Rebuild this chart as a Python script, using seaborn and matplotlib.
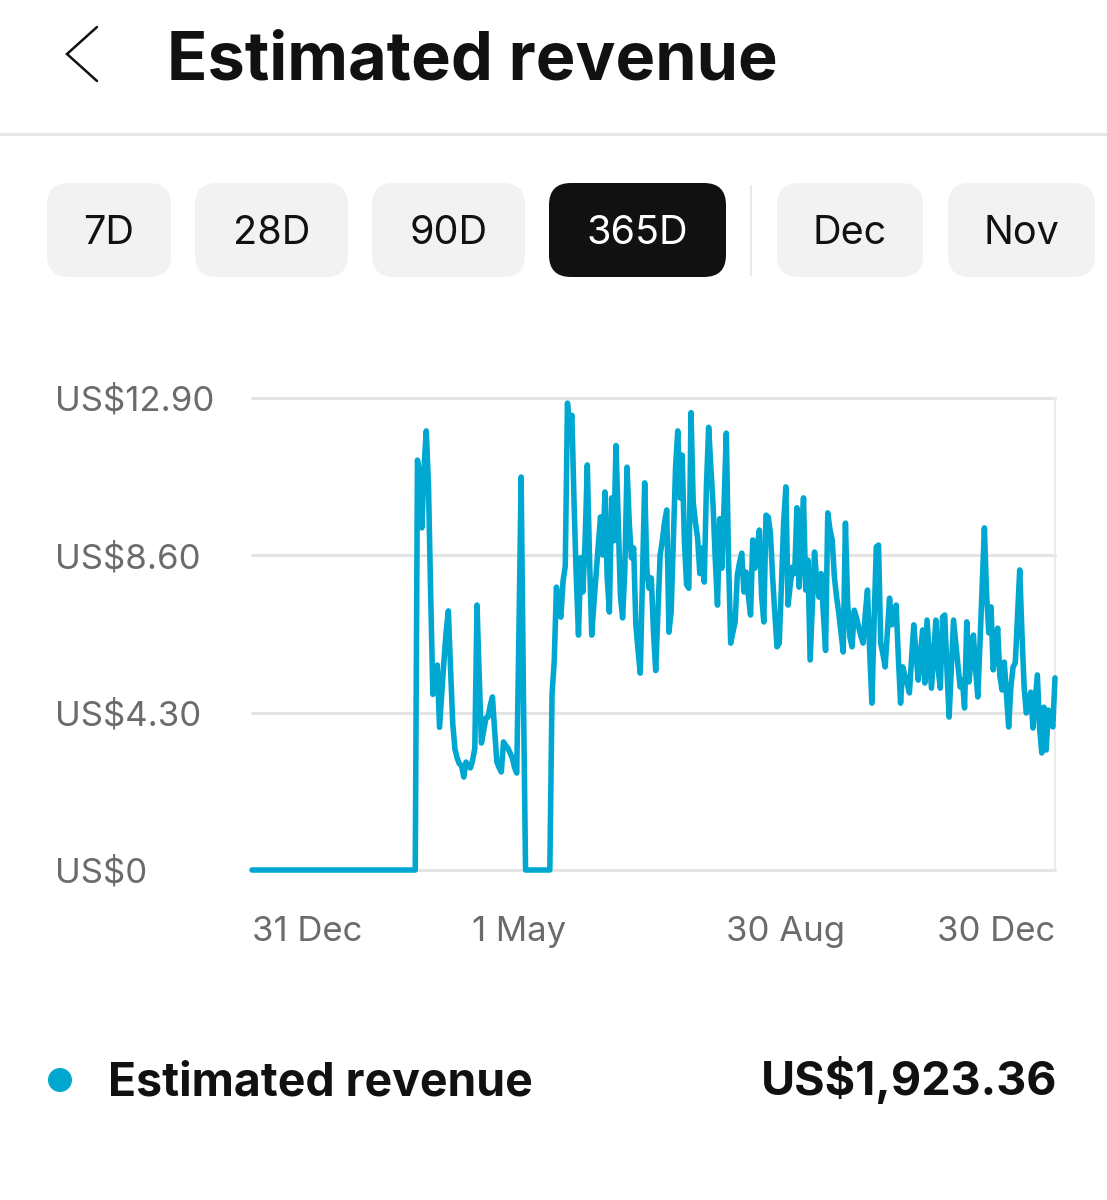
import matplotlib
matplotlib.use("Agg")
import matplotlib.pyplot as plt
import seaborn as sns
import pandas as pd
from matplotlib.patches import FancyBboxPatch, Circle

# ---------------- data ----------------
start_date = "2022-12-31"
zeros_early = [0.0] * 75            # 31 Dec .. 15 Mar
segment_a = [                        # 16 Mar .. 3 May
    11.2, 10.8, 9.35, 11.0, 12.0, 10.5, 7.5, 4.8, 5.2, 5.6,
    3.9, 4.8, 5.7, 6.5, 7.08, 5.5, 4.0, 3.3, 3.06, 2.9,
    2.85, 2.54, 2.95, 2.85, 2.79, 3.0, 3.33, 7.24, 5.3, 3.47,
    3.8, 4.15, 4.18, 4.5, 4.73, 3.8, 2.95, 2.8, 2.68, 3.5,
    3.4, 3.33, 3.2, 3.06, 2.8, 2.65, 6.5, 10.74, 5.0,
]
zeros_gap = [0.0] * 12               # 4 May .. 15 May
segment_b = [                        # 16 May .. 5 Sep
    4.8, 5.7, 7.73, 7.2, 6.91, 7.9, 8.3, 12.76, 12.0, 12.43,
    10.0, 8.0, 6.42, 8.53, 7.6, 9.0, 11.07, 8.5, 6.42, 7.3,
    8.1, 8.9, 9.65, 8.61, 10.33, 8.0, 7.05, 10.17, 9.0, 11.6,
    9.5, 7.5, 6.89, 8.2, 11.01, 9.5, 8.53, 8.8, 6.7, 6.0,
    5.38, 8.0, 10.58, 8.2, 7.7, 7.98, 6.5, 5.45, 7.0, 8.6,
    9.0, 9.5, 9.84, 6.5, 7.05, 9.0, 11.0, 12.0, 10.17, 11.34,
    9.0, 7.8, 7.7, 12.5, 10.06, 9.5, 9.07, 8.1, 8.8, 7.87,
    10.5, 12.1, 11.0, 9.98, 8.5, 7.24, 9.6, 8.25, 10.0, 11.94,
    8.5, 6.2, 6.5, 6.78, 8.06, 8.4, 8.66, 7.6, 8.14, 7.5,
    6.97, 9.02, 8.25, 8.8, 9.29, 7.5, 6.78, 9.7, 9.65, 9.2,
    8.0, 7.0, 6.1, 6.2, 7.8, 9.5, 10.47, 7.24, 7.8, 8.28,
    8.1, 9.9, 7.73,
]
segment_c = [                        # 6 Sep .. 30 Dec
    9.0, 10.17, 7.65, 8.47, 5.74, 7.2, 8.69, 7.9, 7.46, 8.1,
    7.0, 6.0, 9.76, 9.3, 9.02, 8.0, 7.46, 7.02, 6.5, 5.96,
    9.48, 7.3, 6.37, 6.1, 7.1, 6.9, 6.64, 6.4, 6.2, 7.0,
    7.65, 5.96, 4.56, 6.8, 8.83, 8.88, 6.2, 5.9, 5.55, 6.5,
    7.43, 6.7, 7.0, 7.24, 5.8, 4.56, 5.55, 5.3, 5.1, 4.84,
    5.8, 6.7, 5.9, 5.19, 5.9, 6.56, 5.11, 6.83, 5.9, 4.97,
    5.9, 6.83, 5.5, 4.97, 6.91, 6.97, 5.5, 4.18, 5.5, 6.83,
    6.2, 5.6, 5.0, 5.2, 4.43, 6.78, 5.14, 5.8, 6.42, 5.5,
    4.73, 6.2, 7.8, 9.35, 7.5, 6.48, 7.19, 5.47, 6.0, 6.61,
    5.3, 4.92, 5.68, 4.8, 3.91, 5.0, 5.55, 5.66, 6.9, 8.2,
    6.5, 5.0, 4.29, 4.6, 4.86, 3.88, 4.6, 5.33, 3.9, 3.2,
    4.45, 3.28, 4.37, 4.1, 3.91, 5.25,
]
revenue = zeros_early + segment_a + zeros_gap + segment_b + segment_c

y_ticks = [0, 4.30, 8.60, 12.90]
y_tick_labels = ["US$0", "US$4.30", "US$8.60", "US$12.90"]
x_tick_dates = ["2022-12-31", "2023-05-01", "2023-08-30", "2023-12-30"]
x_tick_labels = ["31 Dec", "1 May", "30 Aug", "30 Dec"]
tab_labels = ["7D", "28D", "90D", "365D", "Dec", "Nov"]
active_tab = "365D"
title_text = "Estimated revenue"
legend_text = "Estimated revenue"
total_text = "US$1,923.36"

# ---------------- style ----------------
sns.set_theme(style="white")
plt.rcParams["font.family"] = ["Inter", "DejaVu Sans"]

LINE_COLOR = "#00A7D1"
GRID_COLOR = "#E4E4E4"
LABEL_GRAY = "#6B6B6B"
TEXT_DARK = "#111111"

W, H = 1107, 1200
fig = plt.figure(figsize=(W / 100, H / 100), dpi=100)
fig.patch.set_facecolor("white")

# overlay axes in pixel coordinates for the app chrome
bg = fig.add_axes([0, 0, 1, 1], zorder=0)
bg.set_xlim(0, W)
bg.set_ylim(H, 0)
bg.axis("off")

# back chevron
bg.plot([97, 67, 97], [27, 54, 81], color=TEXT_DARK, lw=1.8, solid_capstyle="round",
        solid_joinstyle="miter")
# title
bg.text(167, 79, title_text, fontsize=48, fontweight="bold", color=TEXT_DARK,
        ha="left", va="baseline")
# divider
bg.plot([0, W], [134, 134], color="#E6E6E6", lw=2.2)

# tabs
tab_spans = [(47, 171), (195, 348), (372, 525), (549, 726), (777, 923), (948, 1095)]
tab_top, tab_bot = 183, 277
for label, (x0, x1) in zip(tab_labels, tab_spans):
    active = label == active_tab
    bg.add_patch(FancyBboxPatch((x0, tab_top), x1 - x0, tab_bot - tab_top,
                                boxstyle="round,pad=0,rounding_size=22",
                                facecolor=TEXT_DARK if active else "#F2F2F2",
                                edgecolor="none"))
    bg.text((x0 + x1) / 2, 244, label, fontsize=28.5, color="white" if active else TEXT_DARK,
            ha="center", va="baseline")
bg.plot([751, 751], [186, 275], color="#E8E8E8", lw=1.5)

# legend row
bg.add_patch(Circle((60, 1080), 12, facecolor=LINE_COLOR, edgecolor="none"))
bg.text(108, 1095, legend_text, fontsize=33.4, fontweight="bold", color=TEXT_DARK,
        ha="left", va="baseline")
bg.text(1057, 1095, total_text, fontsize=33.6, fontweight="bold", color=TEXT_DARK,
        ha="right", va="baseline")

# ---------------- chart ----------------
left, right, top, bottom = 252, 1055, 398, 870
ax = fig.add_axes([left / W, 1 - bottom / H, (right - left) / W, (bottom - top) / H], zorder=1)
ax.set_facecolor("none")

df = pd.DataFrame({
    "date": pd.date_range(start_date, periods=len(revenue), freq="D"),
    "revenue": revenue,
})

for yv in y_ticks:
    ax.axhline(yv, color=GRID_COLOR, lw=2.2, zorder=1, clip_on=False)
ax.axvline(df["date"].iloc[-1], color="#EBEBEB", lw=1.5, zorder=1, clip_on=False)

sns.lineplot(data=df, x="date", y="revenue", ax=ax, color=LINE_COLOR, linewidth=4.0,
             zorder=3, clip_on=False)

ax.set_xlim(df["date"].iloc[0], df["date"].iloc[-1])
ax.set_ylim(0, 12.9)
ax.set_xlabel("")
ax.set_ylabel("")
for s in ax.spines.values():
    s.set_visible(False)
ax.grid(False)

ax.set_yticks(y_ticks)
ax.set_yticklabels(y_tick_labels)
ax.set_xticks(pd.to_datetime(x_tick_dates))
ax.set_xticklabels(x_tick_labels)
ax.tick_params(axis="both", length=0, labelsize=25, labelcolor=LABEL_GRAY)
ax.tick_params(axis="y", pad=(left - 55) * 0.72)
ax.tick_params(axis="x", pad=33)
for t in ax.get_yticklabels():
    t.set_ha("left")
xl = ax.get_xticklabels()
xl[0].set_ha("left")
xl[-1].set_ha("right")

fig.savefig("out.png", dpi=100, facecolor="white")
